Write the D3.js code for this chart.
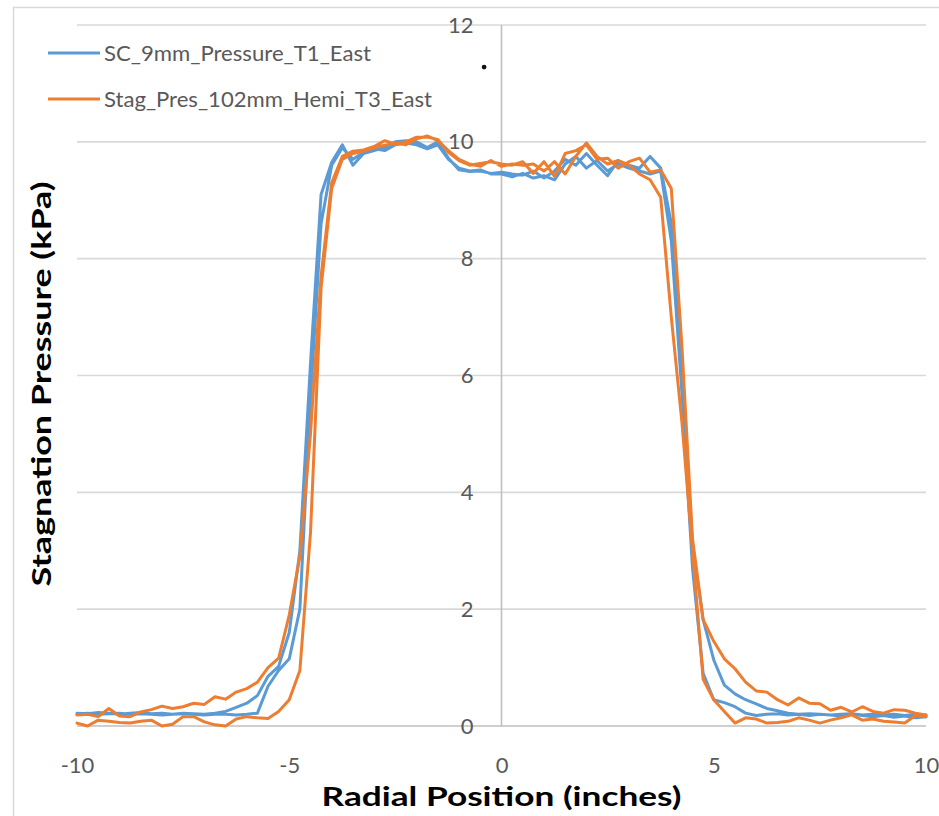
<!DOCTYPE html>
<html>
<head>
<meta charset="utf-8">
<script src="https://cdn.jsdelivr.net/npm/d3@7"></script>
<style>
  body { margin: 0; background: #fff; }
  svg { display: block; }
</style>
</head>
<body>
<svg id="chart" width="939" height="816"></svg>
<script>
// Radial traverse positions (inches)
const positions = [
  -10, -9.75, -9.5, -9.25, -9, -8.75, -8.5, -8.25, -8, -7.75,
  -7.5, -7.25, -7, -6.75, -6.5, -6.25, -6, -5.75, -5.5, -5.25,
  -5, -4.75, -4.5, -4.25, -4, -3.75, -3.5, -3.25, -3, -2.75,
  -2.5, -2.25, -2, -1.75, -1.5, -1.25, -1, -0.75, -0.5, -0.25,
  0, 0.25, 0.5, 0.75, 1, 1.25, 1.5, 1.75, 2, 2.25,
  2.5, 2.75, 3, 3.25, 3.5, 3.75, 4, 4.25, 4.5, 4.75,
  5, 5.25, 5.5, 5.75, 6, 6.25, 6.5, 6.75, 7, 7.25,
  7.5, 7.75, 8, 8.25, 8.5, 8.75, 9, 9.25, 9.5, 9.75,
  10
];

// SC_9mm probe: outbound pass and return pass (kPa)
const blueOut = [
  0.22, 0.21, 0.23, 0.22, 0.20, 0.22, 0.23, 0.21, 0.22, 0.20,
  0.22, 0.21, 0.20, 0.22, 0.25, 0.32, 0.39, 0.52, 0.85, 1.02,
  1.60, 3.00, 6.20, 9.10, 9.65, 9.95, 9.60, 9.80, 9.85, 9.90,
  10.00, 10.02, 10.00, 9.90, 10.00, 9.72, 9.52, 9.49, 9.50, 9.46,
  9.48, 9.45, 9.43, 9.50, 9.38, 9.50, 9.70, 9.60, 9.80, 9.60,
  9.42, 9.68, 9.60, 9.55, 9.75, 9.55, 8.60, 6.00, 3.10, 1.82,
  1.13, 0.70, 0.55, 0.45, 0.38, 0.30, 0.26, 0.22, 0.20, 0.21,
  0.20, 0.19, 0.20, 0.21, 0.19, 0.20, 0.19, 0.20, 0.18, 0.20,
  0.19
];
const blueBack = [
  0.20, 0.22, 0.20, 0.21, 0.22, 0.20, 0.21, 0.20, 0.19, 0.20,
  0.21, 0.20, 0.19, 0.20, 0.20, 0.19, 0.20, 0.22, 0.68, 0.95,
  1.15, 2.00, 5.60, 8.60, 9.60, 9.90, 9.70, 9.82, 9.88, 9.85,
  9.95, 9.98, 9.95, 9.88, 9.95, 9.70, 9.55, 9.50, 9.52, 9.45,
  9.45, 9.40, 9.46, 9.38, 9.42, 9.35, 9.62, 9.75, 9.55, 9.68,
  9.50, 9.62, 9.55, 9.50, 9.45, 9.50, 8.30, 5.70, 2.70, 0.90,
  0.45, 0.40, 0.33, 0.22, 0.18, 0.20, 0.21, 0.19, 0.20, 0.18,
  0.20, 0.19, 0.17, 0.20, 0.18, 0.16, 0.18, 0.15, 0.17, 0.14,
  0.16
];

// 102mm hemispherical probe: outbound pass and return pass (kPa)
const orangeOut = [
  0.19, 0.20, 0.16, 0.30, 0.17, 0.16, 0.24, 0.28, 0.34, 0.30,
  0.33, 0.39, 0.37, 0.50, 0.46, 0.58, 0.64, 0.75, 1.00, 1.16,
  1.90, 2.90, 5.00, 7.70, 9.30, 9.75, 9.84, 9.86, 9.92, 10.02,
  9.96, 10.00, 10.08, 10.08, 10.04, 9.82, 9.68, 9.60, 9.63, 9.66,
  9.62, 9.60, 9.66, 9.46, 9.66, 9.41, 9.80, 9.85, 9.95, 9.70,
  9.72, 9.55, 9.66, 9.72, 9.48, 9.52, 9.20, 6.50, 3.20, 1.82,
  1.45, 1.15, 0.98, 0.75, 0.60, 0.58, 0.45, 0.36, 0.48, 0.39,
  0.38, 0.27, 0.32, 0.24, 0.33, 0.25, 0.22, 0.28, 0.27, 0.22,
  0.19
];
const orangeBack = [
  0.05, 0.00, 0.10, 0.08, 0.06, 0.05, 0.08, 0.10, 0.00, 0.03,
  0.16, 0.16, 0.07, 0.02, 0.00, 0.12, 0.16, 0.14, 0.13, 0.25,
  0.45, 0.95, 3.30, 7.50, 9.20, 9.70, 9.80, 9.84, 9.90, 9.94,
  9.98, 9.95, 10.05, 10.10, 10.02, 9.85, 9.70, 9.62, 9.58, 9.68,
  9.58, 9.62, 9.60, 9.62, 9.50, 9.66, 9.45, 9.75, 9.98, 9.75,
  9.62, 9.68, 9.60, 9.45, 9.35, 9.05, 7.00, 5.20, 3.00, 0.80,
  0.45, 0.25, 0.05, 0.14, 0.12, 0.05, 0.06, 0.08, 0.14, 0.10,
  0.05, 0.10, 0.14, 0.19, 0.10, 0.12, 0.08, 0.07, 0.05, 0.18,
  0.16
];

const seriesNames = ["SC_9mm_Pressure_T1_East", "Stag_Pres_102mm_Hemi_T3_East"];
const seriesColors = ["#5b9bd5", "#ed7d31"];
const xTicks = [-10, -5, 0, 5, 10];
const yTicks = [0, 2, 4, 6, 8, 10, 12];
const xTitle = "Radial Position (inches)";
const yTitle = "Stagnation Pressure (kPa)";
// small ink mark on the chart near the top of the axis
const noteMark = [{ x: -0.41, y: 11.28 }];

const svg = d3.select("#chart");
const W = 939, H = 816;
const plot = { left: 77, right: 926, top: 25, bottom: 726 };

const x = d3.scaleLinear().domain([-10, 10]).range([plot.left, plot.right]);
const y = d3.scaleLinear().domain([0, 12]).range([plot.bottom, plot.top]);

const font = "Lato, 'Open Sans', 'Liberation Sans', sans-serif";
const labelGrey = "#595959";

// fit text to a target width
function fit(sel, width) {
  sel.attr("textLength", width).attr("lengthAdjust", "spacingAndGlyphs");
}

// chart area border
svg.append("rect")
  .attr("x", 13.5).attr("y", 7.5)
  .attr("width", W + 20).attr("height", H + 20)
  .attr("fill", "#fff").attr("stroke", "#d9d9d9").attr("stroke-width", 1.5);

// horizontal gridlines
svg.append("g")
  .selectAll("line")
  .data(yTicks.filter(d => d > 0))
  .join("line")
  .attr("x1", plot.left).attr("x2", plot.right)
  .attr("y1", d => y(d)).attr("y2", d => y(d))
  .attr("stroke", "#d9d9d9").attr("stroke-width", 1.6);

// x axis line (at y = 0)
svg.append("line")
  .attr("x1", plot.left).attr("x2", plot.right)
  .attr("y1", y(0)).attr("y2", y(0))
  .attr("stroke", "#bfbfbf").attr("stroke-width", 1.6);

// y axis line crossing at x = 0
svg.append("line")
  .attr("x1", x(0)).attr("x2", x(0))
  .attr("y1", y(12)).attr("y2", y(0))
  .attr("stroke", "#bfbfbf").attr("stroke-width", 1.6);

// series lines: each run is the outbound pass followed by the return pass
const line = d3.line().x(d => x(d[0])).y(d => y(d[1]));
const runs = [
  { out: blueOut, back: blueBack, color: seriesColors[0] },
  { out: orangeOut, back: orangeBack, color: seriesColors[1] }
];
runs.forEach(r => {
  const pts = positions.map((p, i) => [p, r.out[i]])
    .concat(positions.map((p, i) => [p, r.back[i]]).reverse());
  svg.append("path")
    .datum(pts)
    .attr("d", line)
    .attr("fill", "none")
    .attr("stroke", r.color)
    .attr("stroke-width", 3)
    .attr("stroke-linejoin", "round")
    .attr("stroke-linecap", "round");
});

// y tick labels, beside the axis at x = 0
const yAxis = d3.axisLeft(y).tickValues(yTicks).tickSize(0).tickPadding(28)
  .tickFormat(d => String(d));
svg.append("g")
  .attr("transform", `translate(${x(0)},0)`)
  .call(yAxis)
  .call(g => g.select(".domain").remove())
  .selectAll("text")
  .attr("font-family", font).attr("font-size", 22)
  .attr("fill", labelGrey);

// x tick labels
const xAxis = d3.axisBottom(x).tickValues(xTicks).tickSize(0).tickPadding(31)
  .tickFormat(d => (d < 0 ? "-" + Math.abs(d) : String(d)));
svg.append("g")
  .attr("transform", `translate(0,${y(0)})`)
  .call(xAxis)
  .call(g => g.select(".domain").remove())
  .selectAll("text")
  .attr("font-family", font).attr("font-size", 22)
  .attr("fill", labelGrey);

// axis titles
svg.append("text")
  .attr("x", x(0)).attr("y", 806)
  .attr("text-anchor", "middle")
  .attr("font-family", font).attr("font-weight", "bold").attr("font-size", 27)
  .attr("fill", "#000")
  .text(xTitle)
  .call(fit, 360);

svg.append("text")
  .attr("transform", "translate(51,384) rotate(-90)")
  .attr("text-anchor", "middle")
  .attr("font-family", font).attr("font-weight", "bold").attr("font-size", 27)
  .attr("fill", "#000")
  .text(yTitle)
  .call(fit, 405);

// legend
const legendRows = [
  { name: seriesNames[0], color: seriesColors[0], y: 53, w: 267 },
  { name: seriesNames[1], color: seriesColors[1], y: 99, w: 328 }
];
const lg = svg.append("g");
legendRows.forEach(r => {
  lg.append("line")
    .attr("x1", 48).attr("x2", 100)
    .attr("y1", r.y).attr("y2", r.y)
    .attr("stroke", r.color).attr("stroke-width", 3);
  lg.append("text")
    .attr("x", 104).attr("y", r.y + 7.5)
    .attr("font-family", font).attr("font-size", 21)
    .attr("fill", labelGrey)
    .text(r.name)
    .call(fit, r.w);
});

// ink mark
svg.append("g")
  .selectAll("circle")
  .data(noteMark)
  .join("circle")
  .attr("cx", d => x(d.x)).attr("cy", d => y(d.y))
  .attr("r", 2.4).attr("fill", "#111");
</script>
</body>
</html>
